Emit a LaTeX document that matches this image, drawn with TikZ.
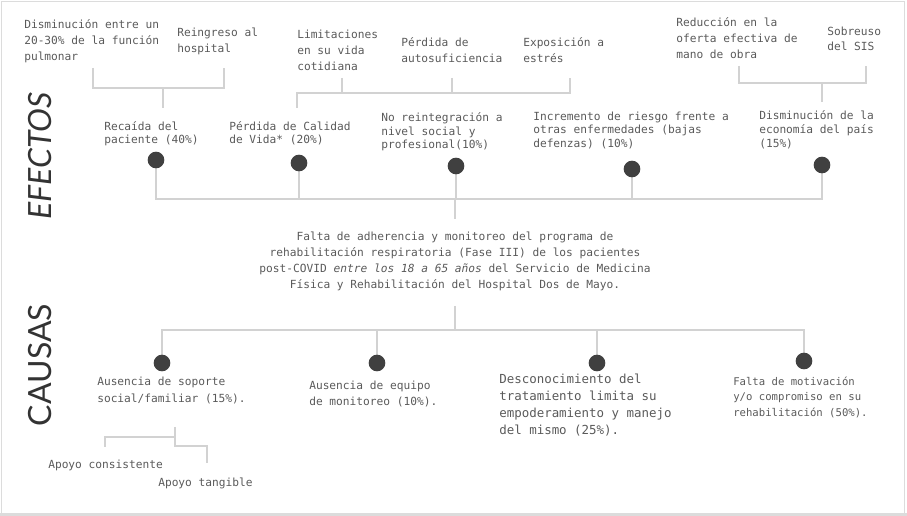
\documentclass[tikz,border=0pt]{standalone}
\usepackage{fontspec}
\setmonofont{DejaVu Sans Mono}
\newfontfamily\titlefont{Lato}
\usetikzlibrary{backgrounds}
\definecolor{txtgray}{HTML}{5A5A5A}
\definecolor{dotgray}{HTML}{404040}
\definecolor{lngray}{HTML}{D2D2D2}
\definecolor{framegray}{HTML}{DCDCDC}
\newcommand{\lst}{\rule{0pt}{8.5pt}}
\newcommand{\lblfont}[2]{\ttfamily\fontsize{#1}{#2}\selectfont}
\tikzset{
  lbl/.style={anchor=north west, inner sep=0pt, align=left, text=txtgray, execute at begin node=\lst},
  ln/.style={draw=lngray, line width=1.1pt},
  dot/.style={circle, fill=dotgray, inner sep=0pt, minimum size=12.5pt},
  titulo/.style={rotate=90, font=\titlefont\fontsize{24}{24}\selectfont, text=black!80, inner sep=0pt}
}
\begin{document}
\begin{tikzpicture}[x=0.75pt,y=-0.75pt]
  \useasboundingbox (0,0) rectangle (907,516);
  \node[titulo] (efectos) at (40,156) {\itshape EFECTOS};
  \node[titulo] (causas) at (40,365) {CAUSAS};

  \node[lbl,font=\lblfont{8.4}{12}] (t1) at (24,19.7) {Disminución entre un\\20-30\% de la función\\pulmonar};
  \node[lbl,font=\lblfont{8.4}{12}] (t2) at (177,27.7) {Reingreso al\\hospital};
  \node[lbl,font=\lblfont{8.4}{12}] (t3) at (297,29.7) {Limitaciones\\en su vida\\cotidiana};
  \node[lbl,font=\lblfont{8.4}{12}] (t4) at (401,37.7) {Pérdida de\\autosuficiencia};
  \node[lbl,font=\lblfont{8.4}{12}] (t5) at (523,37.7) {Exposición a\\estrés};
  \node[lbl,font=\lblfont{8.4}{12}] (t6) at (676,17.7) {Reducción en la\\oferta efectiva de\\mano de obra};
  \node[lbl,font=\lblfont{8.4}{11.4}] (t7) at (827,26.7) {Sobreuso\\del SIS};

  \node[lbl,font=\lblfont{8.4}{9.75}] (f1) at (104,121.7) {Recaída del\\paciente (40\%)};
  \node[lbl,font=\lblfont{8.4}{9.75}] (f2) at (229,121.7) {Pérdida de Calidad\\de Vida* (20\%)};
  \node[lbl,font=\lblfont{8.4}{10.1}] (f3) at (381,112.7) {No reintegración a\\nivel social y\\profesional(10\%)};
  \node[lbl,font=\lblfont{8.4}{10.1}] (f4) at (533,111.7) {Incremento de riesgo frente a\\otras enfermedades (bajas\\defenzas) (10\%)};
  \node[lbl,font=\lblfont{8.4}{10.5}] (f5) at (759,110.7) {Disminución de la\\economía del país\\(15\%)};

  \node[dot] (e1) at (156,160) {};
  \node[dot] (e2) at (299,163) {};
  \node[dot] (e3) at (456,166) {};
  \node[dot] (e4) at (632,169) {};
  \node[dot] (e5) at (822,165) {};

  \node[lbl,anchor=north,align=center,font=\lblfont{8.4}{12}] (prob) at (455,231.7)
    {Falta de adherencia y monitoreo del programa de\\rehabilitación respiratoria (Fase III) de los pacientes\\post-COVID \textit{entre los 18 a 65 años} del Servicio de Medicina\\Física y Rehabilitación del Hospital Dos de Mayo.};

  \node[dot] (c1) at (162,363) {};
  \node[dot] (c2) at (377,363) {};
  \node[dot] (c3) at (597,363) {};
  \node[dot] (c4) at (804,361) {};

  \node[lbl,font=\lblfont{8.4}{12.75}] (k1) at (97,376.7) {Ausencia de soporte\\social/familiar (15\%).};
  \node[lbl,font=\lblfont{8.4}{12}] (k2) at (309,380.7) {Ausencia de equipo\\de monitoreo (10\%).};
  \node[lbl,font=\lblfont{9.34}{12.75}] (k3) at (499,374) {Desconocimiento del\\tratamiento limita su\\empoderamiento y manejo\\del mismo (25\%).};
  \node[lbl,font=\lblfont{7.97}{11.6}] (k4) at (733,376.7) {Falta de motivación\\y/o compromiso en su\\rehabilitación (50\%).};

  \node[lbl,font=\lblfont{8.4}{12}] (s1) at (48,456.7) {Apoyo consistente};
  \node[lbl,font=\lblfont{8.4}{12}] (s2) at (158,474.7) {Apoyo tangible};

  \begin{scope}[on background layer]
    \draw[framegray,line width=1.1pt] (1.5,513) -- (1.5,1.5) -- (904.5,1.5) -- (904.5,513);
    \fill[framegray] (0,512.5) rectangle (907,516);
    \coordinate (ejeE) at (455,199);
    \coordinate (finE) at (455,219);
    \draw[ln] (e1.center) |- (ejeE) -| (e5.center);
    \foreach \n in {e2,e3,e4}
      \draw[ln] (\n.center) -- (\n.center |- ejeE);
    \draw[ln] (ejeE) -- (finE);
    \coordinate (iniC) at (455,306);
    \coordinate (ejeC) at (455,330);
    \draw[ln] (iniC) -- (ejeC);
    \draw[ln] (c1.center) |- (ejeC) -| (c4.center);
    \foreach \n in {c2,c3}
      \draw[ln] (\n.center) -- (\n.center |- ejeC);
    \draw[ln] (93,68) |- (224,88) -- (224,68);
    \draw[ln] (163,88) -- (163,108);
    \draw[ln] (297,108) |- (570,93) -- (570,78);
    \draw[ln] (342,78) -- (342,93);
    \draw[ln] (452,78) -- (452,93);
    \draw[ln] (739,66) |- (866,83) -- (866,66);
    \draw[ln] (822,83) -- (822,102);
    \draw[ln] (175,427) |- (207,446) -- (207,463);
    \draw[ln] (175,437) -| (105,447);
  \end{scope}
\end{tikzpicture}
\end{document}
